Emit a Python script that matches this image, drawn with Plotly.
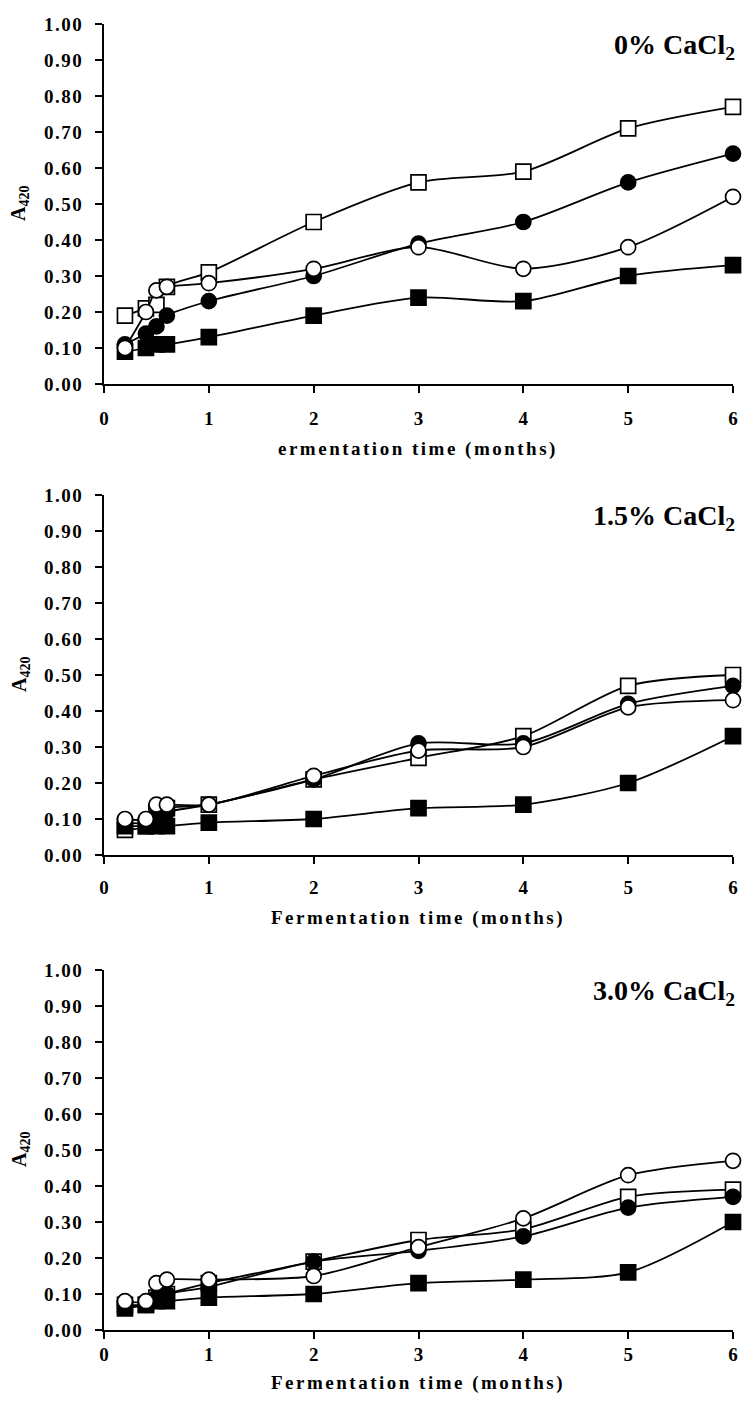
import plotly.graph_objects as go

# Sampling times (months) shared by all series
months = [0.2, 0.4, 0.5, 0.6, 1, 2, 3, 4, 5, 6]

# 0% CaCl2
open_sq_0 = [0.19, 0.21, 0.22, 0.27, 0.31, 0.45, 0.56, 0.59, 0.71, 0.77]
fill_ci_0 = [0.11, 0.14, 0.16, 0.19, 0.23, 0.30, 0.39, 0.45, 0.56, 0.64]
fill_sq_0 = [0.09, 0.10, 0.11, 0.11, 0.13, 0.19, 0.24, 0.23, 0.30, 0.33]
open_ci_0 = [0.10, 0.20, 0.26, 0.27, 0.28, 0.32, 0.38, 0.32, 0.38, 0.52]

# 1.5% CaCl2
open_sq_15 = [0.07, 0.08, 0.12, 0.13, 0.14, 0.21, 0.27, 0.33, 0.47, 0.50]
fill_ci_15 = [0.09, 0.09, 0.11, 0.12, 0.14, 0.21, 0.31, 0.31, 0.42, 0.47]
fill_sq_15 = [0.08, 0.08, 0.08, 0.08, 0.09, 0.10, 0.13, 0.14, 0.20, 0.33]
open_ci_15 = [0.10, 0.10, 0.14, 0.14, 0.14, 0.22, 0.29, 0.30, 0.41, 0.43]

# 3.0% CaCl2
open_sq_30 = [0.07, 0.07, 0.09, 0.10, 0.13, 0.19, 0.25, 0.28, 0.37, 0.39]
fill_ci_30 = [0.07, 0.07, 0.09, 0.10, 0.12, 0.19, 0.22, 0.26, 0.34, 0.37]
fill_sq_30 = [0.06, 0.07, 0.08, 0.08, 0.09, 0.10, 0.13, 0.14, 0.16, 0.30]
open_ci_30 = [0.08, 0.08, 0.13, 0.14, 0.14, 0.15, 0.23, 0.31, 0.43, 0.47]

panel_labels = ["0% CaCl<sub>2</sub>", "1.5% CaCl<sub>2</sub>", "3.0% CaCl<sub>2</sub>"]
x_titles = ["ermentation time (months)", "Fermentation time (months)",
            "Fermentation time (months)"]
x_tick_vals = [0, 1, 2, 3, 4, 5, 6]
x_tick_text = ["0", "1", "2", "3", "4", "5", "6"]
y_tick_vals = [0.0, 0.1, 0.2, 0.3, 0.4, 0.5, 0.6, 0.7, 0.8, 0.9, 1.0]
y_tick_text = ["0.00", "0.10", "0.20", "0.30", "0.40", "0.50",
               "0.60", "0.70", "0.80", "0.90", "1.00"]

panels = [
    (open_sq_0, fill_ci_0, fill_sq_0, open_ci_0),
    (open_sq_15, fill_ci_15, fill_sq_15, open_ci_15),
    (open_sq_30, fill_ci_30, fill_sq_30, open_ci_30),
]

W, H = 743, 1405
FONT = "Liberation Serif"

# pixel frame of each panel: (top at 1.00, bottom at 0.00)
frames = [(24, 384), (495, 855), (970, 1330)]
x_left, x_right = 104, 733
# distance of the x tick labels and the x title below each panel
tick_standoff = [9, 7, -1]
title_offset = [65, 63, 53]


def px_x(p):
    return p / W


def px_y(p):
    return 1 - p / H


def spaced(s, sp):
    return f"<span style='letter-spacing:{sp}px'>{s}</span>"


# marker styles, drawn bottom to top
styles = [
    dict(symbol="square", color="white"),
    dict(symbol="circle", color="black"),
    dict(symbol="square", color="black"),
    dict(symbol="circle", color="white"),
]

fig = go.Figure()
layout = dict(
    template="none",
    width=W, height=H, margin=dict(l=0, r=0, t=0, b=0, pad=0),
    paper_bgcolor="white", plot_bgcolor="white", showlegend=False,
)
annotations = []

for i, (series, (top, bot)) in enumerate(zip(panels, frames)):
    n = "" if i == 0 else str(i + 1)
    xa, ya = "x" + n, "y" + n
    for vals, st in zip(series, styles):
        fig.add_trace(go.Scatter(
            x=months, y=vals, xaxis=xa, yaxis=ya, mode="lines+markers",
            line=dict(color="black", width=1.8, shape="spline", smoothing=0.8),
            marker=dict(symbol=st["symbol"], size=15, color=st["color"],
                        line=dict(color="black", width=1.7)),
            cliponaxis=False,
        ))
    layout["xaxis" + n] = dict(
        domain=[px_x(x_left), px_x(x_right)], anchor=ya, range=[0, 6],
        automargin=False,
        tickvals=x_tick_vals, ticktext=x_tick_text,
        ticks="outside", ticklen=7, tickwidth=2, tickcolor="black",
        showline=True, linecolor="black", linewidth=2, showgrid=False,
        zeroline=False, ticklabelstandoff=tick_standoff[i],
        tickfont=dict(family=FONT, size=19, color="black", weight="bold"),
    )
    layout["yaxis" + n] = dict(
        domain=[px_y(bot), px_y(top)], anchor=xa, range=[0, 1],
        automargin=False,
        tickvals=y_tick_vals, ticktext=[spaced(t, 1.5) for t in y_tick_text],
        ticks="outside", ticklen=7, tickwidth=2, tickcolor="black",
        showline=True, linecolor="black", linewidth=2, showgrid=False,
        zeroline=False, ticklabelstandoff=8,
        tickfont=dict(family=FONT, size=19, color="black", weight="bold"),
    )
    annotations.append(dict(
        text=panel_labels[i], xref="paper", yref="paper",
        x=px_x(737), y=px_y(top + 22), xanchor="right", yanchor="middle",
        showarrow=False,
        font=dict(family=FONT, size=28, color="black", weight="bold"),
    ))
    annotations.append(dict(
        text=spaced(x_titles[i], 2.5), xref="paper", yref="paper",
        x=px_x(418), y=px_y(bot + title_offset[i]), xanchor="center",
        yanchor="middle", showarrow=False,
        font=dict(family=FONT, size=19, color="black", weight="bold"),
    ))
    annotations.append(dict(
        text="A<sub>420</sub>", xref="paper", yref="paper",
        x=px_x(20), y=px_y((top + bot) / 2), xanchor="center", yanchor="middle",
        textangle=-90, showarrow=False,
        font=dict(family=FONT, size=20, color="black", weight="bold"),
    ))

layout["annotations"] = annotations
fig.update_layout(**layout)
fig.write_html("out.html")
